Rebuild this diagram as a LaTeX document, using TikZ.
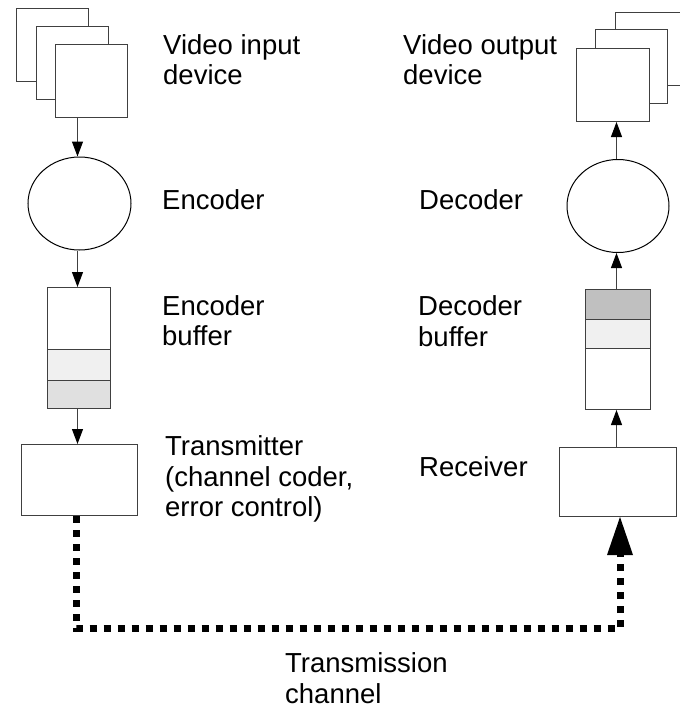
\documentclass[tikz,border=0pt]{standalone}
\usepackage{fontspec}
\setmainfont{Liberation Sans}
\usetikzlibrary{arrows.meta,shapes.geometric}
\definecolor{edge}{HTML}{404040}
\definecolor{lightfill}{HTML}{F0F0F0}
\definecolor{midfill}{HTML}{E0E0E0}
\definecolor{darkfill}{HTML}{C0C0C0}
\tikzset{
  box/.style={draw=edge, line width=1pt, fill=white, rectangle, inner sep=0pt, anchor=north west},
  oval/.style={draw=black, line width=1pt, ellipse, inner sep=0pt},
  lbl/.style={font=\fontsize{27.5}{30.5}\selectfont, align=left, inner sep=0pt, anchor=west},
  link/.style={draw=edge, line width=1pt, -{Triangle[length=15pt,width=11pt,color=black]}},
  chan/.style={draw=black, line width=7pt, dash pattern=on 7pt off 7pt, line cap=butt}
}
\begin{document}
\begin{tikzpicture}[x=1pt,y=-1pt]
\useasboundingbox (0,0) rectangle (680,710);
% input stack
\node[box, minimum width=72pt, minimum height=73pt] (inA) at (16,8) {};
\node[box, minimum width=72pt, minimum height=73pt] (inB) at (36,26) {};
\node[box, minimum width=72pt, minimum height=73pt] (inC) at (55,44) {};
% output stack
\node[box, minimum width=73pt, minimum height=73pt] (outA) at (615,12) {};
\node[box, minimum width=72pt, minimum height=74pt] (outB) at (595,29) {};
\node[box, minimum width=73pt, minimum height=73pt] (outC) at (576,48) {};
% encoder / decoder
\node[oval, minimum width=103pt, minimum height=93pt] (enc) at (79.5,203.5) {};
\node[oval, minimum width=102pt, minimum height=93pt] (dec) at (618,206) {};
% encoder buffer
\node[box, minimum width=63pt, minimum height=62pt] (eb1) at (47,287) {};
\node[box, fill=lightfill, minimum width=63pt, minimum height=31pt] (eb2) at (47,349) {};
\node[box, fill=midfill, minimum width=63pt, minimum height=28pt] (eb3) at (47,380) {};
% decoder buffer
\node[box, fill=darkfill, minimum width=65pt, minimum height=30pt] (db1) at (585,289) {};
\node[box, fill=lightfill, minimum width=65pt, minimum height=29pt] (db2) at (585,319) {};
\node[box, minimum width=65pt, minimum height=61pt] (db3) at (585,348) {};
% transmitter / receiver
\node[box, minimum width=116pt, minimum height=71pt] (tx) at (21,444) {};
\node[box, minimum width=117pt, minimum height=69pt] (rx) at (559,447) {};
% labels
\node[lbl] (tin) at (163,59.5) {Video input\\device};
\node[lbl] (tout) at (403,59.5) {Video output\\device};
\node[lbl] (tenc) at (162,200) {Encoder};
\node[lbl] (tdec) at (419,200) {Decoder};
\node[lbl] (teb) at (162,320.5) {Encoder\\buffer};
\node[lbl] (tdb) at (418,321) {Decoder\\buffer};
\node[lbl] (ttx) at (165,479) {Transmitter\\(channel coder,\\error control)};
\node[lbl] (trx) at (419,467) {Receiver};
\node[lbl] (tch) at (285,678) {Transmission\\channel};
% connectors left
\coordinate (colL) at (77.5,0);
\draw[link] (colL |- inC.south) -- (colL |- enc.north);
\draw[link] (colL |- enc.south) -- (colL |- eb1.north);
\draw[link] (colL |- eb3.south) -- (colL |- tx.north);
% connectors right
\coordinate (colR) at (616.5,0);
\draw[link] (colR |- rx.north) -- (colR |- db3.south);
\draw[link] (colR |- db1.north) -- (colR |- dec.south);
\draw[link] (colR |- dec.north) -- (colR |- outC.south);
% transmission channel
\coordinate (chL) at (76,628.5);
\coordinate (chR) at (620,628.5);
\draw[chan, -{Triangle[length=38pt,width=26pt,line width=0pt]}]
  (tx.south -| chL) -- (chL) -- (chR) -- (rx.south -| chR);
\end{tikzpicture}
\end{document}
